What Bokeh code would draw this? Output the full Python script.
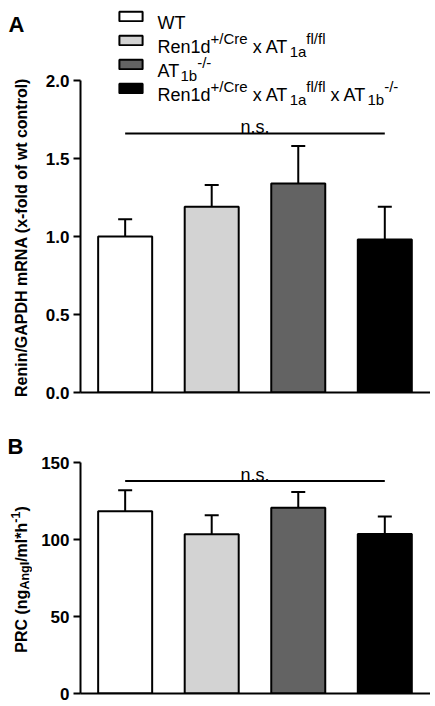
import math
from bokeh.plotting import figure
from bokeh.models import (Range1d, FixedTicker, NumeralTickFormatter, Whisker, TeeHead,
                          ColumnDataSource, Label, Legend, LegendItem)
from bokeh.layouts import column, row
from bokeh.embed import file_html
from bokeh.resources import INLINE

FONT = "Liberation Sans"

# ---------------- data ----------------
groups = ["WT", "Ren1d+/Cre x AT1a fl/fl", "AT1b -/-", "Ren1d+/Cre x AT1a fl/fl x AT1b -/-"]
bar_colors = ["#ffffff", "#d3d3d3", "#636363", "#000000"]

renin_mean = [1.00, 1.19, 1.34, 0.98]
renin_sem = [0.11, 0.14, 0.24, 0.21]
renin_sig_y = 1.66
renin_ticks = [0.0, 0.5, 1.0, 1.5, 2.0]
renin_axis_max = 2.0
renin_label = "Renin/GAPDH mRNA (x-fold of wt control)"

prc_mean = [118.5, 103.6, 120.9, 103.8]
prc_sem = [13.7, 12.3, 10.2, 11.3]
prc_sig_y = 138.2
prc_ticks = [0, 50, 100, 150]
prc_axis_max = 150
prc_label = [("n", "PRC (ng"), ("sub", "AngI"), ("n", "/ml*h"), ("sup", "-1"), ("n", ")")]

sig_text = "n.s."
panel_letters = ["A", "B"]

legend_rows = [
    [("n", "WT")],
    [("n", "Ren1d"), ("sup", "+/Cre"), ("n", " x AT"), ("sub", "1a"), ("sup", "fl/fl")],
    [("n", "AT"), ("sub", "1b"), ("sup", "-/-")],
    [("n", "Ren1d"), ("sup", "+/Cre"), ("n", " x AT"), ("sub", "1a"), ("sup", "fl/fl"),
     ("n", " x AT"), ("sub", "1b"), ("sup", "-/-")],
]

# Arial / Liberation Sans advance widths (1/1000 em)
REG = {' ': 278, '+': 584, '/': 278, '-': 333, '1': 556, 'a': 556, 'b': 556, 'C': 722,
       'd': 556, 'e': 556, 'f': 278, 'l': 222, 'n': 556, 'r': 333, 'x': 500, 'A': 667,
       'R': 722, 'T': 611, 'W': 944}
BOLD = {' ': 278, 'P': 667, 'R': 722, 'C': 722, '(': 333, ')': 333, 'n': 611, 'g': 611,
        'A': 722, 'I': 278, '/': 278, 'm': 889, 'l': 278, '*': 389, 'h': 611, '-': 333,
        '1': 556}


def text_width(s, size, table):
    return sum(table.get(c, 556) for c in s) / 1000.0 * size


def rich_text(p, segs, x0, y0, main_size, small_size, style, table,
              sup_raise, sub_drop, vertical=False):
    pos = 0.0
    for kind, txt in segs:
        size = main_size if kind == "n" else small_size
        shift = {"n": 0.0, "sup": sup_raise, "sub": -sub_drop}[kind]
        stripped = txt.lstrip(" ")
        pos += text_width(txt[:len(txt) - len(stripped)], size, table)
        if vertical:
            lx, ly, ang = x0 - shift, y0 + pos, math.pi / 2
        else:
            lx, ly, ang = x0 + pos, y0 + shift, 0.0
        p.add_layout(Label(x=lx, y=ly, x_units="screen", y_units="screen", text=stripped,
                           angle=ang, text_font=FONT, text_font_size=f"{size}px",
                           text_font_style=style, text_color="black",
                           text_align="left", text_baseline="alphabetic"))
        pos += text_width(stripped, size, table)
    return pos


xs = list(range(1, len(groups) + 1))

LEFT_W = 32          # narrow figure holding the panel letters and y titles
FRAME_LEFT = 80      # x of both y axes
W = 430 - LEFT_W
NS_GAP_PX = 6.5      # gap between significance line and "n.s." baseline


def make_panel(mean, sem, sig_y, ticks, fmt, axis_max, px_per_unit, height, bottom):
    frame_h = height - bottom
    p = figure(width=W, height=height, x_range=Range1d(0.484, 4.528),
               y_range=Range1d(0, frame_h / px_per_unit), output_backend="svg",
               toolbar_location=None, min_border_left=FRAME_LEFT - LEFT_W,
               min_border_right=0, min_border_top=0, min_border_bottom=bottom)
    p.xgrid.visible = False
    p.ygrid.visible = False
    p.outline_line_color = None
    p.background_fill_color = "white"
    p.border_fill_color = "white"

    upper = [m + s for m, s in zip(mean, sem)]
    src = ColumnDataSource(dict(x=xs, top=mean, upper=upper, color=bar_colors))
    bars = p.vbar(x="x", top="top", width=0.624, fill_color="color", line_color="black",
                  line_width=2, source=src)
    p.add_layout(Whisker(source=src, base="x", lower="top", upper="upper",
                         dimension="height", line_width=2, line_color="black",
                         upper_head=TeeHead(size=14, line_width=2, line_color="black"),
                         lower_head=None))
    p.segment(x0=[xs[0]], x1=[xs[-1]], y0=[sig_y], y1=[sig_y], line_width=2,
              line_color="black")
    p.add_layout(Label(x=(xs[0] + xs[-1]) / 2, y=sig_y + NS_GAP_PX / px_per_unit,
                       text=sig_text, text_align="center", text_baseline="alphabetic",
                       text_font=FONT, text_font_size="18px", text_color="black"))

    ya = p.yaxis[0]
    ya.bounds = (0, axis_max)
    ya.ticker = FixedTicker(ticks=ticks)
    ya.formatter = NumeralTickFormatter(format=fmt)
    ya.axis_line_width = 2
    ya.major_tick_line_width = 2
    ya.major_tick_out = 7
    ya.major_tick_in = 0
    ya.minor_tick_line_color = None
    ya.major_label_standoff = 4
    ya.major_label_text_font = FONT
    ya.major_label_text_font_style = "bold"
    ya.major_label_text_font_size = "17px"
    ya.major_label_text_color = "black"

    xa = p.xaxis[0]
    xa.ticker = FixedTicker(ticks=[])
    xa.axis_line_width = 2
    xa.major_tick_out = 0
    xa.major_tick_in = 0
    xa.minor_tick_line_color = None
    xa.major_label_text_font_size = "0px"
    xa.major_label_standoff = 0
    return p, bars


# ---------------- panel A ----------------
A_H, A_BOTTOM_BORDER = 404, 12
A_FRAME_BOTTOM = A_H - A_BOTTOM_BORDER          # 392
pA, barsA = make_panel(renin_mean, renin_sem, renin_sig_y, renin_ticks, "0.0",
                       renin_axis_max, 156.0, A_H, A_BOTTOM_BORDER)

legend = Legend(items=[LegendItem(label=" ", renderers=[barsA], index=i)
                       for i in range(len(groups))],
                location=(36, 298), orientation="vertical", glyph_width=29,
                glyph_height=12, label_height=12, label_width=1, spacing=12, padding=0,
                margin=0, border_line_color=None, background_fill_alpha=0,
                label_text_font_size="8px", label_standoff=0)
pA.add_layout(legend)

for i, segs in enumerate(legend_rows):
    base_page_y = 22.4 + 24 * i
    rich_text(pA, segs, 157 - FRAME_LEFT, A_FRAME_BOTTOM - base_page_y, 18, 15, "normal",
              REG, sup_raise=8, sub_drop=4.5)

# ---------------- panel B ----------------
B_H, B_BOTTOM_BORDER = 299, 10
pB, barsB = make_panel(prc_mean, prc_sem, prc_sig_y, prc_ticks, "0",
                       prc_axis_max, 1.5373, B_H, B_BOTTOM_BORDER)

# ---------------- left strip: panel letters and y titles ----------------
TOTAL_H = A_H + B_H
pL = figure(width=LEFT_W, height=TOTAL_H, x_range=Range1d(0, 1), y_range=Range1d(0, 1),
            output_backend="svg", toolbar_location=None, x_axis_location=None,
            y_axis_location=None, min_border=0, min_border_left=0, min_border_right=0,
            min_border_top=0, min_border_bottom=0)
pL.outline_line_color = None
pL.xgrid.visible = False
pL.ygrid.visible = False

pL.add_layout(Label(x=8, y=TOTAL_H - 24, x_units="screen", y_units="screen",
                    text=panel_letters[0], text_font=FONT, text_font_size="22px",
                    text_font_style="bold", text_baseline="alphabetic", text_color="black"))
pL.add_layout(Label(x=7, y=TOTAL_H - 446, x_units="screen", y_units="screen",
                    text=panel_letters[1], text_font=FONT, text_font_size="22px",
                    text_font_style="bold", text_baseline="alphabetic", text_color="black"))

pL.add_layout(Label(x=21, y=TOTAL_H - 237, x_units="screen", y_units="screen",
                    text=renin_label, angle=math.pi / 2, text_font=FONT,
                    text_font_size="16px", text_font_style="bold", text_color="black",
                    text_align="center", text_baseline="alphabetic"))

total = sum(text_width(t, 16 if k == "n" else 12.5, BOLD) for k, t in prc_label)
start_page_y = 579 + total / 2
rich_text(pL, prc_label, 21, TOTAL_H - start_page_y, 16, 12.5, "bold", BOLD,
          sup_raise=6, sub_drop=3.5, vertical=True)

layout = row(pL, column(pA, pB, spacing=0), spacing=0)
open("out.html", "w").write(file_html(layout, INLINE))
